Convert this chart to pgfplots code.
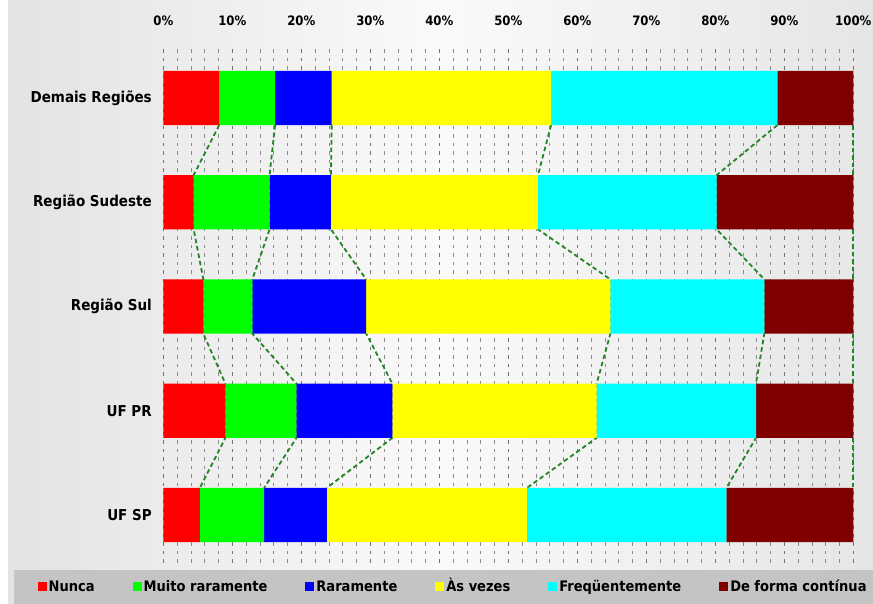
\documentclass[border=0pt]{standalone}
\usepackage{fontspec}
\setmainfont{DejaVu Sans Condensed}
\usepackage{pgfplots}
\usepackage{pgfplotstable}
\pgfplotsset{compat=1.18}

\definecolor{cNunca}{HTML}{FF0000}
\definecolor{cMuito}{HTML}{00FF00}
\definecolor{cRara}{HTML}{0000FF}
\definecolor{cVezes}{HTML}{FFFF00}
\definecolor{cFreq}{HTML}{00FFFF}
\definecolor{cCont}{HTML}{800000}
\definecolor{serie}{HTML}{238523}

% shares of answers per region (percent)
\pgfplotstableread{
y nunca muito rara vezes freq cont
4 8.1 8.1 8.2 31.8 32.8 11.0
3 4.4 11.0 8.9 30.0 25.9 19.8
2 5.8 7.1 16.5 35.4 22.3 12.9
1 9.0 10.3 13.9 29.6 23.1 14.1
0 5.3 9.3 9.1 29.0 28.9 18.4
}\dados

\pgfplotsset{
  common/.style={
    at={(163.3pt,41pt)}, anchor=south west,
    scale only axis, width=690pt, height=518pt,
    xmin=0, xmax=100, ymin=-0.46, ymax=4.508,
    axis line style={draw=none},
    major tick length=0pt, minor tick length=0pt,
    clip=false,
  },
  serieline/.style={serie, line width=1.8pt, dash pattern=on 4.5pt off 3pt, mark=none},
}

\begin{document}
\begin{tikzpicture}[x=1pt,y=1pt]
  \path[use as bounding box] (0,0) rectangle (873,604);
  \fill[white] (0,0) rectangle (873,604);
  \shade[left color=black!11, right color=black!10, middle color=black!2] (8,0) rectangle (873,604);
  \fill[black!23] (14,0) rectangle (873,34);

  % grid and series lines
  \begin{axis}[common,
    xtick={0,10,...,100}, xticklabels={},
    minor x tick num=4,
    ytick=\empty,
    xmajorgrids, xminorgrids,
    major grid style={black!55, line width=0.8pt, dash pattern=on 3.5pt off 5pt},
    minor grid style={black!45, line width=0.8pt, dash pattern=on 3.5pt off 5pt},
  ]
    \addplot[serieline] coordinates {(8.1,3.74) (4.4,3.26) (4.4,2.74) (5.8,2.26) (5.8,1.74) (9.0,1.26) (9.0,0.74) (5.3,0.26)};
    \addplot[serieline] coordinates {(16.2,3.74) (15.4,3.26) (15.4,2.74) (12.9,2.26) (12.9,1.74) (19.3,1.26) (19.3,0.74) (14.6,0.26)};
    \addplot[serieline] coordinates {(24.4,3.74) (24.3,3.26) (24.3,2.74) (29.4,2.26) (29.4,1.74) (33.2,1.26) (33.2,0.74) (23.7,0.26)};
    \addplot[serieline] coordinates {(56.2,3.74) (54.3,3.26) (54.3,2.74) (64.8,2.26) (64.8,1.74) (62.8,1.26) (62.8,0.74) (52.7,0.26)};
    \addplot[serieline] coordinates {(89.0,3.74) (80.2,3.26) (80.2,2.74) (87.1,2.26) (87.1,1.74) (85.9,1.26) (85.9,0.74) (81.6,0.26)};
    \addplot[serieline] coordinates {(100,3.74) (100,3.26)};
    \addplot[serieline] coordinates {(100,2.74) (100,2.26)};
    \addplot[serieline] coordinates {(100,1.74) (100,1.26)};
    \addplot[serieline] coordinates {(100,0.74) (100,0.26)};
  \end{axis}

  % stacked bars
  \begin{axis}[common,
    xbar stacked, bar width=0.52,
    xtick={0,10,...,100},
    xticklabels={0\%,10\%,20\%,30\%,40\%,50\%,60\%,70\%,80\%,90\%,100\%},
    xticklabel pos=upper,
    /pgf/number format/assume math mode=true,
    x tick label style={font=\bfseries\fontsize{13}{13}\selectfont, yshift=16pt},
    ytick={0,1,2,3,4},
    yticklabels={UF SP, UF PR, Região Sul, Região Sudeste, Demais Regiões},
    y tick label style={font=\bfseries\fontsize{15}{16}\selectfont, xshift=-8pt},
    legend columns=6,
    legend style={at={(0.42,-0.046)}, anchor=center, draw=none, fill=none,
      font=\bfseries\fontsize{14.5}{15}\selectfont,
      /tikz/every even column/.append style={column sep=36pt}},
    legend image code/.code={\fill[#1] (0pt,-4.5pt) rectangle (9pt,4.5pt);},
  ]
    \addplot[fill=cNunca, draw=none] table[x=nunca, y=y]{\dados};
    \addplot[fill=cMuito, draw=none] table[x=muito, y=y]{\dados};
    \addplot[fill=cRara, draw=none] table[x=rara, y=y]{\dados};
    \addplot[fill=cVezes, draw=none] table[x=vezes, y=y]{\dados};
    \addplot[fill=cFreq, draw=none] table[x=freq, y=y]{\dados};
    \addplot[fill=cCont, draw=none] table[x=cont, y=y]{\dados};
    \legend{\strut Nunca, \strut Muito raramente, \strut Raramente,
      \strut\smash{Às} vezes, \strut Freqüentemente, \strut De forma contínua}
  \end{axis}
\end{tikzpicture}
\end{document}
